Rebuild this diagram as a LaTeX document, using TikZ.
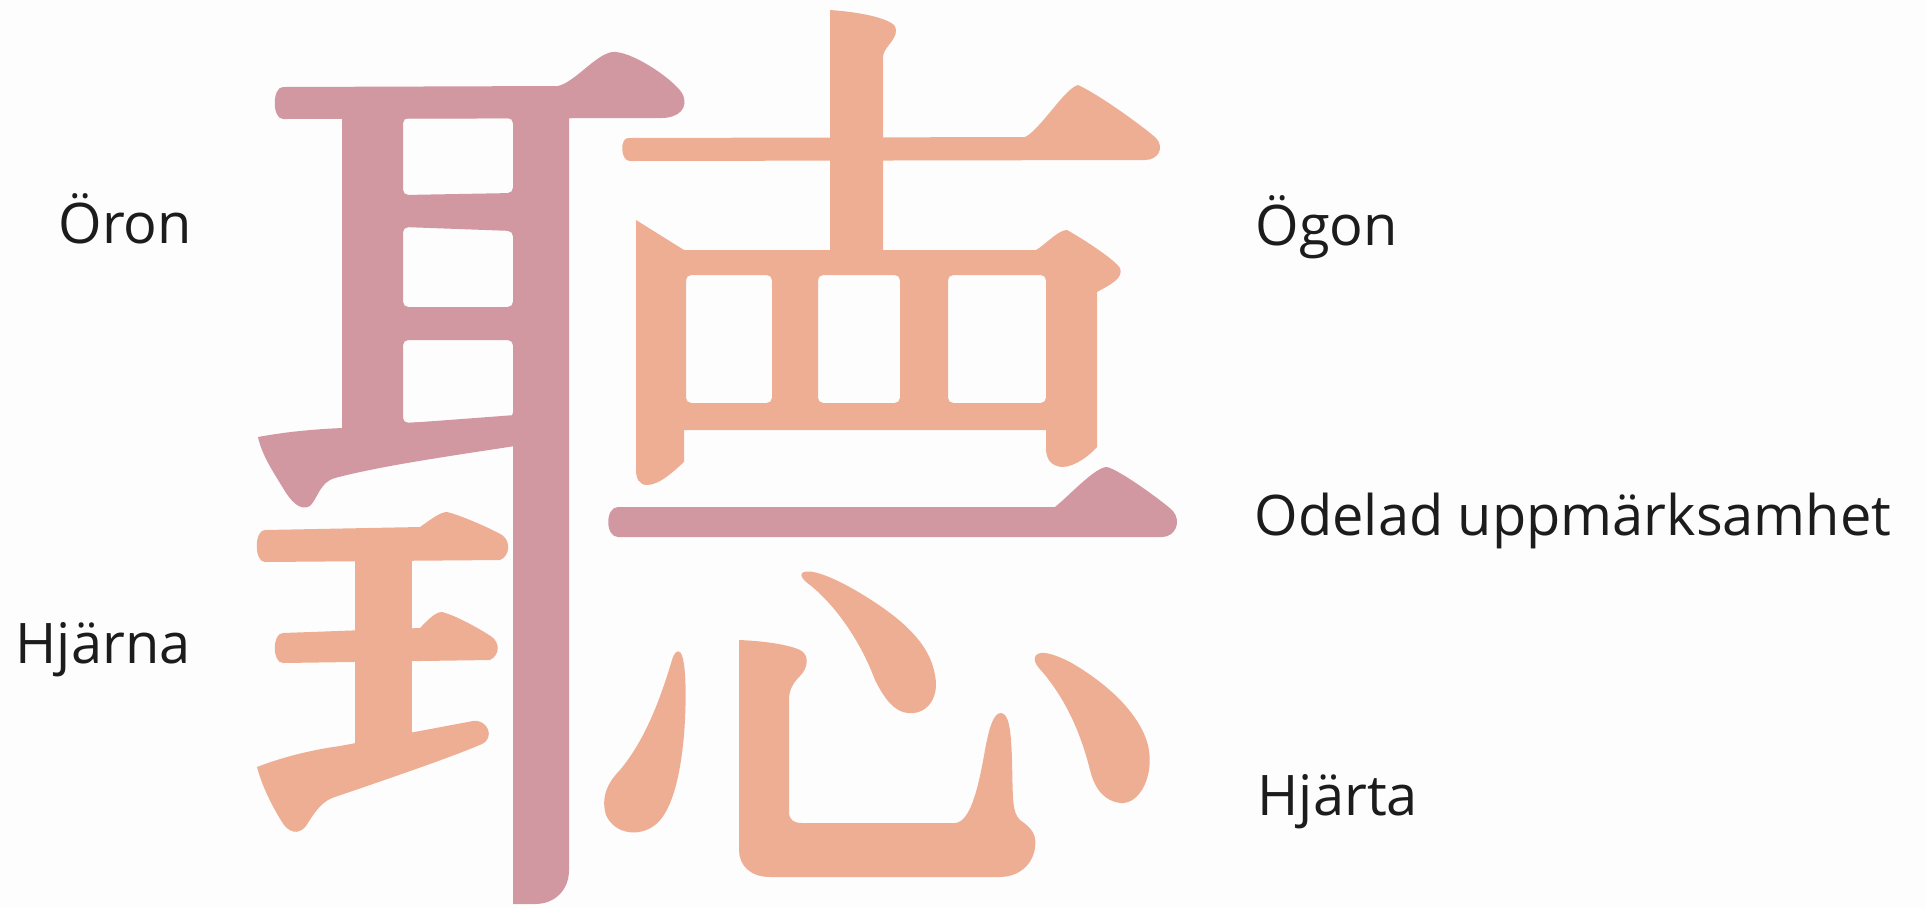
\documentclass[tikz,border=0pt]{standalone}
\usepackage{fontspec}
\setmainfont{Open Sans}
\definecolor{pinkc}{HTML}{D298A2}
\definecolor{orangec}{HTML}{EEAE94}
\definecolor{bgc}{HTML}{FDFDFD}
\definecolor{txtc}{HTML}{1C1C1C}
\begin{document}
\begin{tikzpicture}[x=0.01cm,y=-0.01cm,
  lbl/.style={anchor=base west,inner sep=0pt,text=txtc,font=\fontsize{15.9}{19}\selectfont},
  ps/.style={fill=pinkc},
  os/.style={fill=orangec}]
\fill[bgc] (0,0) rectangle (1926,908);
\useasboundingbox (0,0) rectangle (1926,908);

% ---------- 耳 (pink) ----------
% top bar
\fill[ps] (283,87) -- (558,86) .. controls (575,82) and (595,55) .. (612,52)
  .. controls (630,50) and (672,78) .. (682,93) .. controls (690,108) and (678,118) .. (662,118)
  -- (283,119) .. controls (272,119) and (272,87) .. (283,87) -- cycle;
% frame with holes
\fill[ps,even odd rule] (342,112) -- (515,112) -- (515,425) -- (342,432) -- cycle
  [rounded corners=1.5pt] (403,118) -- (513,118) -- (513,193) -- (403,195) -- cycle
  (403,227) -- (513,231) -- (513,307) -- (403,307) -- cycle
  (403,340) -- (513,340) -- (513,418) -- (403,423) -- cycle;
% rising stroke
\fill[ps] (258,437) .. controls (290,431) and (320,429) .. (342,428) -- (515,415) -- (515,446)
  .. controls (450,456) and (380,466) .. (335,478) .. controls (320,482) and (318,498) .. (310,506)
  .. controls (300,512) and (290,500) .. (283,488) .. controls (272,470) and (262,455) .. (258,437) -- cycle;
% long vertical
\fill[ps] (513,112) -- (569,112) -- (569,870) .. controls (569,890) and (555,904) .. (535,904) -- (513,904) -- cycle;

% ---------- 王 (orange) ----------
\fill[os] (265,530) -- (420,527) .. controls (430,520) and (440,512) .. (447,512)
  .. controls (460,515) and (490,528) .. (502,535) .. controls (511,541) and (510,556) .. (500,560)
  -- (265,562) .. controls (254,562) and (254,530) .. (265,530) -- cycle;
\fill[os] (355,558) rectangle (412,755);
\fill[os] (283,633) -- (420,628) .. controls (428,620) and (435,612) .. (442,612)
  .. controls (455,615) and (482,630) .. (492,637) .. controls (500,643) and (500,655) .. (490,660)
  -- (283,663) .. controls (272,663) and (272,633) .. (283,633) -- cycle;
\fill[os] (257,767) .. controls (280,758) and (310,750) .. (340,746) -- (473,721)
  .. controls (488,719) and (495,738) .. (482,744) .. controls (450,758) and (370,785) .. (332,798)
  .. controls (320,803) and (313,815) .. (306,826) .. controls (298,836) and (288,832) .. (282,822)
  .. controls (272,806) and (262,786) .. (257,767) -- cycle;

% ---------- 十 + 罒 (orange) ----------
\fill[os] (830,10) .. controls (860,12) and (888,18) .. (895,26) .. controls (900,38) and (885,45) .. (883,56)
  -- (883,255) -- (830,255) -- cycle;
\fill[os] (628,138) -- (1025,137) .. controls (1040,130) and (1065,88) .. (1078,85)
  .. controls (1100,95) and (1145,128) .. (1156,138) .. controls (1165,148) and (1158,160) .. (1145,160)
  -- (630,161) .. controls (620,161) and (620,138) .. (628,138) -- cycle;
\fill[os,even odd rule] (636,220) -- (684,250) -- (1036,250) .. controls (1045,245) and (1058,230) .. (1067,230)
  .. controls (1085,240) and (1115,260) .. (1120,268) .. controls (1124,278) and (1110,285) .. (1097,292)
  -- (1097,447) .. controls (1090,455) and (1075,467) .. (1062,467) .. controls (1050,466) and (1046,458) .. (1046,448)
  -- (1046,430) -- (684,430) -- (684,462) .. controls (675,470) and (660,485) .. (647,485)
  .. controls (639,485) and (636,478) .. (636,470) -- cycle
  [rounded corners=1.5pt] (686,275) -- (772,275) -- (772,403) -- (686,403) -- cycle
  (818,275) -- (900,275) -- (900,403) -- (818,403) -- cycle
  (948,275) -- (1046,275) -- (1046,403) -- (948,403) -- cycle;

% ---------- 一 (pink) ----------
\fill[ps] (618,507) -- (1055,507) .. controls (1070,495) and (1095,467) .. (1107,467)
  .. controls (1120,470) and (1165,503) .. (1173,511) .. controls (1182,522) and (1175,537) .. (1162,537)
  -- (618,537) .. controls (605,537) and (605,507) .. (618,507) -- cycle;

% ---------- 心 (orange) ----------
\fill[os] (680,652) .. controls (688,660) and (686,720) .. (683,745) .. controls (678,790) and (668,815) .. (655,825)
  .. controls (640,837) and (615,835) .. (606,815) .. controls (600,795) and (610,780) .. (620,770)
  .. controls (645,740) and (660,700) .. (672,660) .. controls (674,653) and (677,650) .. (680,652) -- cycle;
\fill[os] (739,640) .. controls (765,641) and (790,645) .. (800,650) .. controls (810,655) and (808,668) .. (800,676)
  .. controls (793,683) and (789,690) .. (789,700) -- (789,812) .. controls (789,820) and (794,823) .. (802,823)
  -- (955,823) .. controls (970,822) and (978,790) .. (985,750) .. controls (990,722) and (995,713) .. (1001,713)
  .. controls (1008,714) and (1011,725) .. (1012,760) .. controls (1013,800) and (1012,812) .. (1020,820)
  .. controls (1032,828) and (1037,835) .. (1035,848) .. controls (1032,868) and (1015,877) .. (1000,877)
  -- (770,877) .. controls (750,877) and (739,865) .. (739,850) -- cycle;
\fill[os] (802,573) .. controls (808,568) and (830,575) .. (860,593) .. controls (905,620) and (930,645) .. (935,675)
  .. controls (940,700) and (925,715) .. (908,713) .. controls (895,712) and (885,700) .. (875,680)
  .. controls (860,640) and (835,605) .. (810,585) .. controls (803,580) and (800,576) .. (802,573) -- cycle;
\fill[os] (1035,657) .. controls (1038,650) and (1050,652) .. (1070,662) .. controls (1110,685) and (1140,715) .. (1148,745)
  .. controls (1155,775) and (1140,805) .. (1120,803) .. controls (1105,801) and (1095,790) .. (1090,770)
  .. controls (1080,730) and (1065,700) .. (1045,675) .. controls (1038,667) and (1033,662) .. (1035,657) -- cycle;

% ---------- labels ----------
\node[lbl] (oron) at (58,243) {Öron};
\node[lbl] (hjarna) at (15,663) {Hjärna};
\node[lbl] (ogon) at (1255,245) {Ögon};
\node[lbl] (odelad) at (1254,535) {Odelad uppmärksamhet};
\node[lbl] (hjarta) at (1257,815) {Hjärta};
\end{tikzpicture}
\end{document}
